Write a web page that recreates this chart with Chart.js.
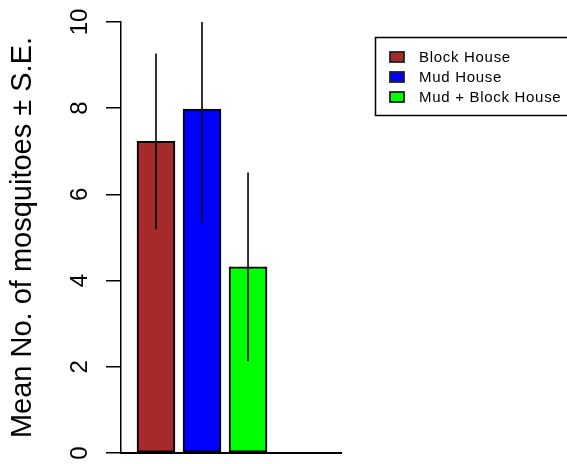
<!DOCTYPE html>
<html>
<head>
<meta charset="utf-8">
<script src="https://cdn.jsdelivr.net/npm/chart.js@4.4.1/dist/chart.umd.min.js"></script>
<style>
  html, body { margin: 0; padding: 0; background: #fff; }
  #wrap { width: 567px; height: 464px; }
</style>
</head>
<body>
<div id="wrap"><canvas id="chart" width="567" height="464"></canvas></div>
<script>
// donnees
const categories = ["Block House", "Mud House", "Mud + Block House"];
const means = [7.23, 7.98, 4.32];
const se = [2.04, 2.65, 2.19];
const colors = ["#A52A2A", "#0000FF", "#00FF00"];
const yTicks = [0, 2, 4, 6, 8, 10];
const yTitle = "Mean No. of mosquitoes \u00b1 S.E.";

const FONT = "'Liberation Sans', Arial, sans-serif";

// barres d'erreur (moyenne +/- erreur standard), coupees a la zone du graphique
const errorBars = {
  id: "errorBars",
  afterDatasetsDraw(chart) {
    const ctx = chart.ctx;
    const y = chart.scales.y;
    const x = chart.scales.x;
    const area = chart.chartArea;
    ctx.save();
    ctx.beginPath();
    ctx.rect(area.left, area.top, area.right - area.left, area.bottom - area.top);
    ctx.clip();
    ctx.strokeStyle = "#000";
    ctx.lineWidth = 1.6;
    for (let i = 0; i < means.length; i++) {
      const px = x.getPixelForValue(i + 1);
      ctx.beginPath();
      ctx.moveTo(px, y.getPixelForValue(means[i] - se[i]));
      ctx.lineTo(px, y.getPixelForValue(means[i] + se[i]));
      ctx.stroke();
    }
    ctx.restore();
  }
};

// etiquettes de l'axe y tournees + legende encadree
const extras = {
  id: "extras",
  afterDraw(chart) {
    const ctx = chart.ctx;
    const y = chart.scales.y;
    ctx.save();
    ctx.fillStyle = "#000";
    ctx.font = "24px " + FONT;
    ctx.textAlign = "center";
    ctx.textBaseline = "alphabetic";
    yTicks.forEach(v => {
      ctx.save();
      ctx.translate(87, y.getPixelForValue(v));
      ctx.rotate(-Math.PI / 2);
      ctx.fillText(String(v), 0, 0);
      ctx.restore();
    });

    // legende
    ctx.strokeStyle = "#000";
    ctx.lineWidth = 1.5;
    ctx.strokeRect(375.5, 37.5, 220, 78);
    ctx.font = "15px " + FONT;
    ctx.letterSpacing = "0.7px";
    ctx.textAlign = "left";
    ctx.textBaseline = "middle";
    const rows = [57, 77, 97];
    categories.forEach((c, i) => {
      ctx.fillStyle = colors[i];
      ctx.fillRect(390, rows[i] - 5, 14, 10);
      ctx.lineWidth = 1.8;
      ctx.strokeStyle = "#222";
      ctx.strokeRect(390, rows[i] - 5, 14, 10);
      ctx.fillStyle = "#000";
      ctx.fillText(c, 419, rows[i] + 1);
    });
    ctx.restore();
  }
};

new Chart(document.getElementById("chart"), {
  type: "bar",
  data: {
    datasets: [{
      label: "Mean",
      data: means.map((m, i) => ({ x: i + 1, y: m })),
      backgroundColor: colors,
      borderColor: "#000",
      borderWidth: 2,
      borderSkipped: false,
      barThickness: 38
    }]
  },
  options: {
    responsive: false,
    animation: false,
    devicePixelRatio: 1,
    layout: { padding: { top: 22, right: 226, bottom: 11, left: 0 } },
    plugins: {
      legend: { display: false },
      tooltip: { enabled: false }
    },
    scales: {
      x: {
        type: "linear",
        offset: false,
        min: 0.24,
        max: 5.02,
        ticks: { display: false },
        grid: { display: false, drawTicks: false, offset: false },
        border: { display: true, color: "#000", width: 2 },
        afterFit: s => { s.height = 0; }
      },
      y: {
        min: 0,
        max: 10,
        ticks: { display: false, stepSize: 2 },
        grid: {
          drawOnChartArea: false,
          drawTicks: true,
          tickLength: 15,
          color: "#000",
          lineWidth: 1.5
        },
        border: { display: true, color: "#000", width: 1.5 },
        title: {
          display: true,
          text: yTitle,
          color: "#000",
          font: { family: FONT, size: 29 },
          padding: { top: 6, bottom: 0 }
        },
        afterFit: s => { s.width = 121; }
      }
    }
  },
  plugins: [errorBars, extras]
});
</script>
</body>
</html>
